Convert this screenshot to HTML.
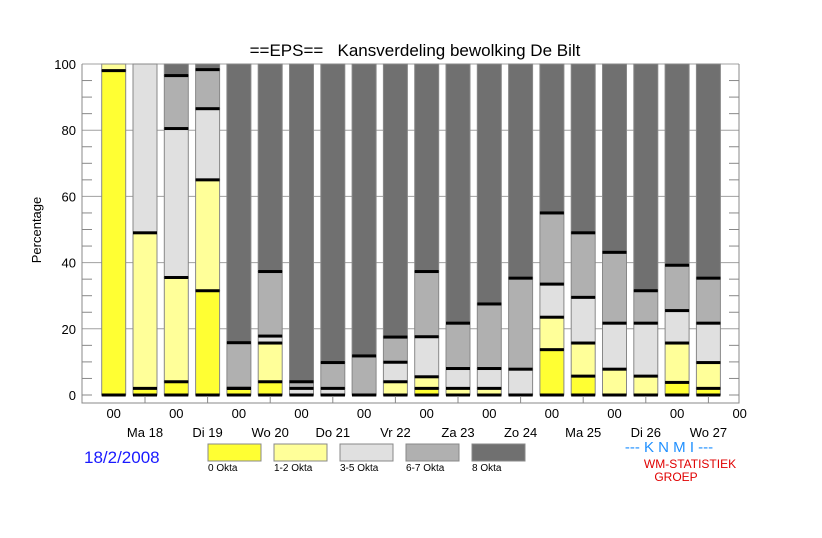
<!DOCTYPE html>
<html><head><meta charset="utf-8"><style>
body{margin:0;background:#fff;}
svg{display:block;font-family:"Liberation Sans",sans-serif;}
</style></head><body>
<svg id="chart" width="822" height="538" xmlns="http://www.w3.org/2000/svg">
<text x="415" y="56" font-size="17" text-anchor="middle" style="white-space:pre" xml:space="preserve">==EPS==   Kansverdeling bewolking De Bilt</text>
<text transform="translate(41,230) rotate(-90)" font-size="13" text-anchor="middle">Percentage</text>
<text x="84" y="463" font-size="17" fill="#1a1aff">18/2/2008</text>
<text x="669" y="452" font-size="15" fill="#2090ff" text-anchor="middle">--- K N M I ---</text>
<text x="690" y="468" font-size="12" fill="#e00000" text-anchor="middle">WM-STATISTIEK</text>
<text x="676" y="481" font-size="12" fill="#e00000" text-anchor="middle">GROEP</text>
<g id="plot"></g>
</svg>
<script>
const dayLabels = ["Ma 18","Di 19","Wo 20","Do 21","Vr 22","Za 23","Zo 24","Ma 25","Di 26","Wo 27"];
const yTicks = [0,20,40,60,80,100];
const okta0  = [98,2,4,31.5,2,4,0,0,0,0,2,0,0,0,13.7,5.7,0,0,3.8,2];
const okta12 = [2,47,31.5,33.5,0,11.7,0,0,0,4,3.5,2,2,0,9.8,10,7.8,5.7,11.9,7.8];
const okta35 = [0,51,45,21.5,0,2.1,2,2,0,5.9,12.1,6,6,7.8,10,13.8,13.9,16,9.8,11.9];
const okta67 = [0,0,16,11.8,13.8,19.5,2,7.8,11.8,7.6,19.7,13.7,19.5,27.5,21.5,19.5,21.4,9.8,13.7,13.6];
const legendNames = ["0 Okta","1-2 Okta","3-5 Okta","6-7 Okta","8 Okta"];
const colors = ["#ffff33","#ffff99","#e0e0e0","#b0b0b0","#707070"];

const NS="http://www.w3.org/2000/svg";
const g=document.getElementById('plot');
const L=82,R=739,T=64,B=403;
const yS=v=>395-v*3.31;
const xS=i=>113.7+i*31.3;
function mk(t,a,p){const e=document.createElementNS(NS,t);for(const k in a)e.setAttribute(k,a[k]);(p||g).appendChild(e);return e;}

for(let v=0;v<=100;v+=5){
  const y=yS(v);
  if(v%20===0 && v>0){
    const gl=mk('line',{x1:L,x2:R,y1:y,y2:y,stroke:'#a0a0a0','stroke-width':1});
    
    
  } else {
    const t1=mk('line',{x1:L,x2:L+10,y1:y,y2:y,stroke:'#888'});
    
    
    const t2=mk('line',{x1:R-10,x2:R,y1:y,y2:y,stroke:'#888'});
    
    
  }
}
yTicks.forEach(v=>{
  const t=mk('text',{x:76,y:yS(v)+5,'font-size':13,'text-anchor':'end'});
  t.textContent=v;
  
  
});

okta0.forEach((v,i)=>{
  const segs=[okta0[i],okta12[i],okta35[i],okta67[i]];
  const sum=segs.reduce((a,b)=>a+b,0);
  segs.push(Math.max(0,100-sum));
  const cx=xS(i);
  let c=0;
  segs.forEach((s,k)=>{
    if(s>0){
      const r=mk('rect',{x:cx-12,y:yS(c+s),width:24,height:s*3.31,fill:colors[k],stroke:'#888','stroke-width':1});
      
      
    }
    c+=s;
  });
  let cum=0;
  [0].concat(segs.slice(0,4)).forEach((s,k)=>{
    cum+=s;
    if(cum<99.5){
      const bl=mk('rect',{x:cx-12,y:yS(cum)-1.5,width:24,height:3,fill:'#000'});
      
      
    }
  });
});

const ax=mk('path',{d:`M${L} ${T}V${B}H${R}V${T}`,fill:'none',stroke:'#888'});


for(let i=0;i<=20;i++){
  const x=xS(i);
  if(i%2===1){
    const tk=mk('line',{x1:x,x2:x,y1:B,y2:B-7,stroke:'#888'});
    
    
  } else {
    const t=mk('text',{x:x,y:418,'font-size':13,'text-anchor':'middle'});
    t.textContent='00';
    
    
  }
}
dayLabels.forEach((d,j)=>{
  const t=mk('text',{x:xS(2*j+1),y:437,'font-size':13,'text-anchor':'middle'});
  t.textContent=d;
  
  
});

legendNames.forEach((n,k)=>{
  const x=208+k*66;
  const r=mk('rect',{x:x,y:444,width:53,height:17,fill:colors[k],stroke:'#888'});
  
  
  const t=mk('text',{x:x,y:471,'font-size':10});
  t.textContent=n;
  
  
});
</script>
</body></html>
